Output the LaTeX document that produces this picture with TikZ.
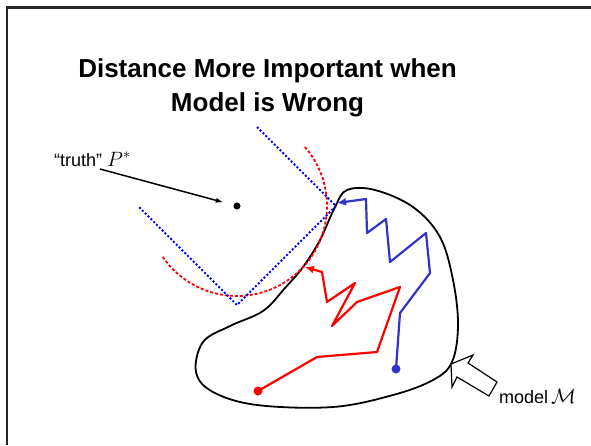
\documentclass[tikz,border=0pt]{standalone}
\usepackage{fontspec}
\setmainfont{Liberation Sans}
\usetikzlibrary{arrows.meta}
\definecolor{walkblue}{HTML}{3333CC}
\tikzset{>=Latex,
  frame/.style={draw=black!85,line width=2.5pt},
  ball/.style={draw=blue,line width=2pt,dash pattern=on 2pt off 2pt},
  ring/.style={draw=red,line width=1.8pt,dash pattern=on 3pt off 2pt},
  region/.style={draw=black,line width=1.8pt},
  walk/.style={line width=2.2pt,line join=round,-{Latex[length=9pt,width=8pt]}},
  startdot/.style={circle,inner sep=0pt,minimum size=9pt},
  headline/.style={anchor=base,inner sep=0pt,font=\fontsize{26}{34}\selectfont\bfseries},
  tag/.style={anchor=base west,inner sep=0pt,font=\fontsize{18}{20}\selectfont}}
\newcommand{\bigmath}[1]{{\fontsize{22}{24}\selectfont$#1$}}

\begin{document}
\begin{tikzpicture}[x=1pt,y=-1pt]
\useasboundingbox (0,0) rectangle (591,445);
\draw[frame] (7,445) -- (7,7.5) -- (591,7.5);
\node[headline] (title) at (267.5,77) {Distance More Important when};
\node[headline] (title2) at (267.5,111) {Model is Wrong};
% the model family
\draw[region] plot[smooth cycle,tension=0.6] coordinates {(347,190) (375,190)
  (413,207) (440,237) (453,280) (458,325) (452,362) (433,380) (393,395)
  (333,407) (257,405) (213,392) (196,372) (203,342) (230,326) (263,311)
  (285,288) (303,267) (320,240) (335,207)};
% truth and the two distance balls
\node[circle,fill,inner sep=0pt,minimum size=7pt] (pstar) at (237,206) {};
\draw[ring] (pstar) ++(-41:90) arc[start angle=-41,end angle=146,radius=90];
\draw[ball] (257,127) -- (336,206) -- (237,305) -- (138,206);
\node[tag] (truth) at (54,166) {“truth” \bigmath{P^*}};
\coordinate (tail) at (100,169);
\draw[line width=1.5pt,-{Latex[length=8pt,width=5pt]},shorten >=10pt] (tail) -- (pstar);
% the two searches
\node[startdot,fill=walkblue] (bstart) at (396,369) {};
\draw[walk,walkblue] (bstart.center) -- (400,313) -- (430,273) -- (426,233)
  -- (390,262) -- (386,219) -- (367,233) -- (366,199) -- (337,203);
\node[startdot,fill=red] (rstart) at (258,391) {};
\draw[walk,red] (rstart.center) -- (317,357) -- (377,352) -- (400,287)
  -- (357,302) -- (332,326) -- (355,283) -- (327,302) -- (322,272) -- (305,267);
% pointer to the model
\draw[line width=1.2pt,fill=white] (451,364) -- (473,355) -- (468,363)
  -- (497,382) -- (489,396) -- (457,377) -- (452,387) -- cycle;
\node[tag] (modelname) at (499,403) {model\,\bigmath{\mathcal{M}}};
\end{tikzpicture}
\end{document}
